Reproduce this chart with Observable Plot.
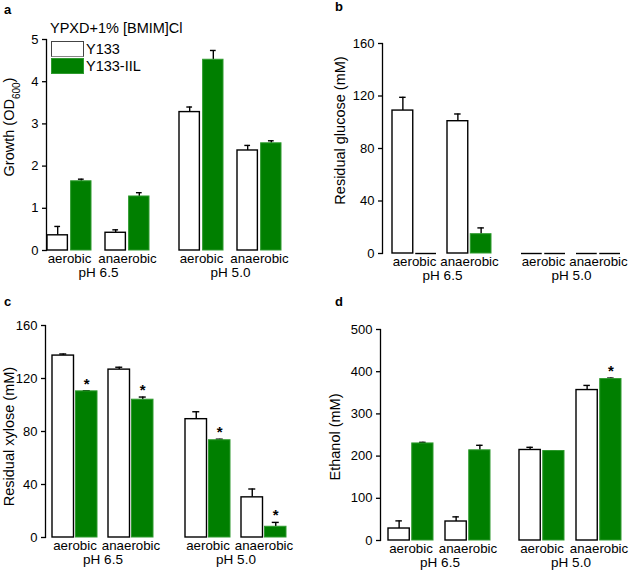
<!DOCTYPE html>
<html>
<head>
<meta charset="utf-8">
<script src="https://cdn.jsdelivr.net/npm/d3@7"></script>
<script src="https://cdn.jsdelivr.net/npm/@observablehq/plot@0.6"></script>
<style>
  body { margin: 0; background: white; }
  #fig { position: relative; width: 638px; height: 572px; font-family: "Liberation Sans", Arial, sans-serif; color: black; }
  .panel { position: absolute; width: 319px; height: 286px; }
  .letter { position: absolute; font-weight: bold; font-size: 13px; line-height: 1; }
  .legend { position: absolute; font-size: 14.5px; line-height: 1; }
  .swatch { position: absolute; width: 31px; height: 14px; box-sizing: content-box; }
</style>
</head>
<body>
<div id="fig"></div>
<script>
const conditions = ["aerobic", "anaerobic", "aerobic", "anaerobic"];
const phs = ["6.5", "6.5", "5.0", "5.0"];
const strains = ["Y133", "Y133-IIL"];
const strainColors = ["white", "#007f00"];

// a: growth (OD600)
const growthY133 = [0.36, 0.42, 3.28, 2.37];
const growthY133Sd = [0.21, 0.07, 0.12, 0.12];
const growthIIL = [1.64, 1.28, 4.52, 2.54];
const growthIILSd = [0.05, 0.09, 0.22, 0.06];

// b: residual glucose (mM)
const glucoseY133 = [108.9, 100.8, 0, 0];
const glucoseY133Sd = [10.1, 5.5, 0, 0];
const glucoseIIL = [0, 14.7, 0, 0];
const glucoseIILSd = [0, 4.8, 0, 0];

// c: residual xylose (mM)
const xyloseY133 = [137.3, 126.7, 89.3, 30.3];
const xyloseY133Sd = [1.2, 1.8, 5.6, 6.3];
const xyloseIIL = [110.3, 104.0, 73.4, 8.1];
const xyloseIILSd = [0.5, 2.0, 0.8, 3.3];
const xyloseIILStar = [true, true, true, true];

// d: ethanol (mM)
const ethanolY133 = [28.4, 45.0, 214.5, 356.5];
const ethanolY133Sd = [18.1, 11.0, 6.3, 11.0];
const ethanolIIL = [230.0, 213.7, 212.0, 382.5];
const ethanolIILSd = [2.6, 11.9, 0.5, 2.4];
const ethanolIILStar = [false, false, false, true];

const ticksGrowth = [0, 1, 2, 3, 4, 5];
const ticksSugar = [0, 40, 80, 120, 160];
const ticksEthanol = [0, 100, 200, 300, 400, 500];

function rows(y133, y133Sd, iil, iilSd, iilStar = []) {
  return conditions.flatMap((cond, i) => [
    {cond, ph: phs[i], strain: strains[0], v: y133[i], e: y133Sd[i], star: false},
    {cond, ph: phs[i], strain: strains[1], v: iil[i], e: iilSd[i], star: !!iilStar[i]}
  ]);
}

function panel(data, o) {
  const W = 319, H = 286;
  const bw = (o.fw - o.xInset - o.condGap) / 2;
  const half = bw / 2 + 1;
  const centres = [(bw - half) / 2, (bw + half) / 2];
  const cap = 3.5;
  const mr = W - o.ml - 2 * o.fw - o.fxGap;
  const marks = [
    Plot.frame({anchor: "left", facetAnchor: "left", strokeWidth: 1.3}),
    Plot.axisY({ticks: o.ticks, tickFormat: d3.format("d"), tickSize: 4, tickPadding: 4, fontSize: 13, strokeWidth: 1.3,
      label: o.label, labelAnchor: "center", labelOffset: o.labelOffset, labelArrow: "none"}),
    Plot.axisX({tickSize: 0, tickPadding: 3, fontSize: 13.3, label: null}),
    Plot.axisFx({anchor: "bottom", tickSize: 0, tickPadding: 16.5, fontSize: 13.5, label: null,
      dx: o.xInset / 2, tickFormat: d => `pH ${d}`})
  ];
  strains.forEach((s, k) => {
    const sub = data.filter(d => d.strain === s);
    const bars = sub.filter(d => d.v > 0);
    const zeros = sub.filter(d => d.v === 0);
    const errs = sub.filter(d => d.e > 0);
    const inset = k === 0 ? {insetRight: half} : {insetLeft: half};
    const c = centres[k];
    marks.push(
      Plot.ruleX(errs, {fx: "ph", x: "cond", y1: "v", y2: d => d.v + d.e, dx: c - bw / 2, stroke: "black", strokeWidth: 1.4}),
      Plot.tickY(errs, {fx: "ph", x: "cond", y: d => d.v + d.e, insetLeft: c - cap, insetRight: bw - c - cap, stroke: "black", strokeWidth: 1.4}),
      Plot.barY(bars, {fx: "ph", x: "cond", y: "v", ...inset, fill: strainColors[k],
        stroke: k === 0 ? "black" : "#2e9a2e", strokeWidth: k === 0 ? 1.4 : 1}),
      Plot.tickY(zeros, {fx: "ph", x: "cond", y: 0, ...inset, stroke: "black", strokeWidth: 1.4}),
      Plot.text(sub.filter(d => d.star), {fx: "ph", x: "cond", y: d => d.v + d.e, text: () => "*",
        dx: c - bw / 2, dy: -7, fontSize: 15, fontWeight: "bold"})
    );
  });
  const chart = Plot.plot({
    width: W,
    height: H,
    marginLeft: o.ml,
    marginRight: mr,
    marginTop: o.mt,
    marginBottom: o.mb,
    style: {fontFamily: "Liberation Sans, Arial, sans-serif", fontSize: "14px", color: "black", background: "transparent", overflow: "visible"},
    fx: {domain: ["6.5", "5.0"], paddingInner: o.fxGap / (o.fw + o.fxGap), paddingOuter: 0},
    x: {domain: ["aerobic", "anaerobic"], paddingInner: o.condGap / (bw + o.condGap), paddingOuter: 0, insetLeft: o.xInset},
    y: {domain: o.domain},
    marks
  });
  // axis title: subscript and vertical placement
  const lab = chart.querySelector('[aria-label="y-axis label"]');
  if (lab) {
    lab.setAttribute("transform", `translate(0,${o.labelShift}) ` + (lab.getAttribute("transform") || ""));
    lab.setAttribute("font-size", "14.5");
    const t = lab.querySelector("text");
    if (t && o.sub) {
      const [pre, post] = o.label.split(o.sub);
      t.textContent = pre;
      const ts = document.createElementNS("http://www.w3.org/2000/svg", "tspan");
      ts.setAttribute("baseline-shift", "sub");
      ts.setAttribute("font-size", "10");
      ts.textContent = o.sub;
      t.appendChild(ts);
      const tail = document.createElementNS("http://www.w3.org/2000/svg", "tspan");
      tail.textContent = post;
      t.appendChild(tail);
    }
  }
  return chart;
}

const fig = document.getElementById("fig");
function place(node, left, top, letter, lx, ly) {
  const div = document.createElement("div");
  div.className = "panel";
  div.style.left = left + "px";
  div.style.top = top + "px";
  div.appendChild(node);
  fig.appendChild(div);
  const l = document.createElement("div");
  l.className = "letter";
  l.textContent = letter;
  l.style.left = lx + "px";
  l.style.top = ly + "px";
  fig.appendChild(l);
}

place(panel(rows(growthY133, growthY133Sd, growthIIL, growthIILSd), {
  label: "Growth (OD600)", sub: "600", domain: [0, 5], ticks: ticksGrowth,
  ml: 46, mt: 39, mb: 36, fw: 104.5, fxGap: 28, xInset: 0, condGap: 14, labelOffset: 42.5, labelShift: -18
}), 0, 0, "a", 4, 3);

place(panel(rows(glucoseY133, glucoseY133Sd, glucoseIIL, glucoseIILSd), {
  label: "Residual glucose (mM)", domain: [0, 160], ticks: ticksSugar,
  ml: 63, mt: 43, mb: 33, fw: 110, fxGap: 19, xInset: 10, condGap: 11, labelOffset: 47.5, labelShift: -18
}), 319, 0, "b", 335, 0);

place(panel(rows(xyloseY133, xyloseY133Sd, xyloseIIL, xyloseIILSd, xyloseIILStar), {
  label: "Residual xylose (mM)", domain: [0, 160], ticks: ticksSugar,
  ml: 45, mt: 39, mb: 35, fw: 108, fxGap: 25, xInset: 7, condGap: 11, labelOffset: 41.7, labelShift: 5
}), 0, 286, "c", 4, 295);

place(panel(rows(ethanolY133, ethanolY133Sd, ethanolIIL, ethanolIILSd, ethanolIILStar), {
  label: "Ethanol (mM)", domain: [0, 500], ticks: ticksEthanol,
  ml: 61, mt: 43, mb: 32, fw: 111, fxGap: 20, xInset: 8, condGap: 12, labelOffset: 50.7, labelShift: 2
}), 319, 286, "d", 335, 295);

// legend for panel a, inside its frame
const title = document.createElement("div");
title.className = "legend";
title.style.left = "50px";
title.style.top = "21px";
title.textContent = "YPXD+1% [BMIM]Cl";
fig.appendChild(title);
strains.forEach((s, k) => {
  const top = 41 + k * 17;
  const sw = document.createElement("div");
  sw.className = "swatch";
  sw.style.left = "51px";
  sw.style.top = top + "px";
  sw.style.background = strainColors[k];
  sw.style.border = k === 0 ? "1.3px solid #444" : "1px solid #2e9a2e";
  if (k === 0) sw.style.borderBottomColor = "#888";
  fig.appendChild(sw);
  const lab = document.createElement("div");
  lab.className = "legend";
  lab.style.left = "86px";
  lab.style.top = (top + 1) + "px";
  lab.textContent = s;
  fig.appendChild(lab);
});
</script>
</body>
</html>
